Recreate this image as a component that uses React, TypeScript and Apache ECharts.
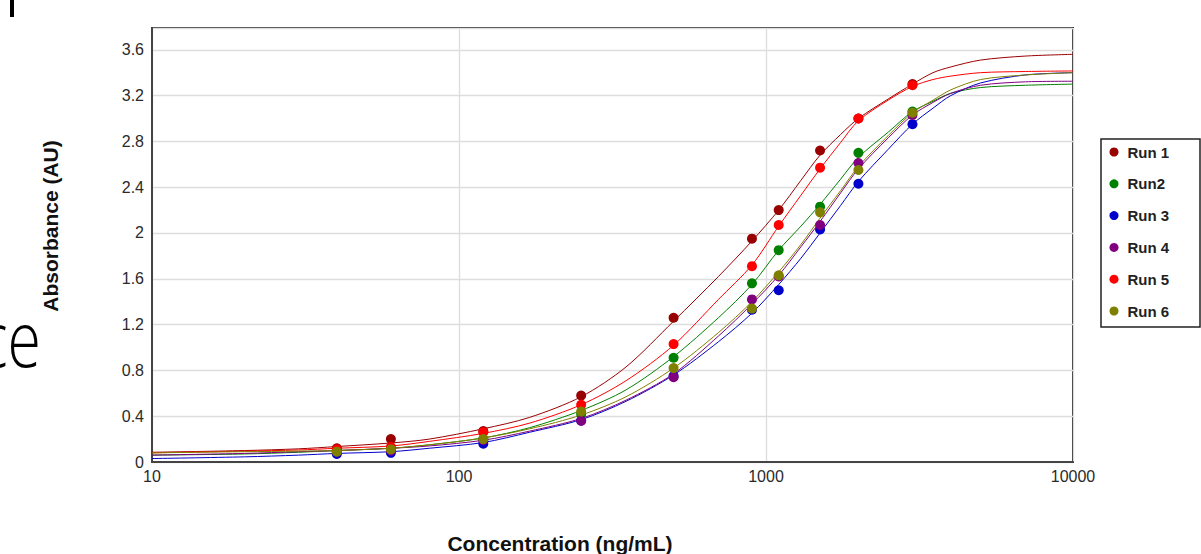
import React, { useEffect, useRef } from "react";
import * as echarts from "echarts";

// Measured concentrations (ng/mL)
const concentrations = [40, 60, 120, 250, 500, 900, 1100, 1500, 2000, 3000];

const runNames = ["Run 1", "Run2", "Run 3", "Run 4", "Run 5", "Run 6"];
const runColors = ["#990000", "#008000", "#0000cc", "#800080", "#ff0000", "#808000"];

// Measured absorbance points per run
const run1Points = [0.12, 0.2, 0.27, 0.58, 1.26, 1.95, 2.2, 2.72, 3.0, 3.3];
const run2Points = [0.09, 0.11, 0.2, 0.42, 0.91, 1.56, 1.85, 2.23, 2.7, 3.06];
const run3Points = [0.07, 0.08, 0.16, 0.36, 0.75, 1.33, 1.5, 2.03, 2.43, 2.95];
const run4Points = [0.09, 0.1, 0.19, 0.36, 0.74, 1.42, 1.62, 2.07, 2.61, 3.03];
const run5Points = [0.11, 0.13, 0.26, 0.5, 1.03, 1.71, 2.07, 2.57, 3.0, 3.29];
const run6Points = [0.09, 0.11, 0.2, 0.44, 0.82, 1.34, 1.63, 2.18, 2.55, 3.05];

// Fitted curves
const curveConc = [10, 20, 30, 40, 60, 80, 120, 170, 250, 350, 500, 700, 900, 1100, 1300, 1500, 1750, 2000, 2500, 3000, 3500, 4000, 5000, 7000, 10000];
const run1Curve = [0.085, 0.1, 0.115, 0.135, 0.166, 0.2, 0.29, 0.39, 0.57, 0.83, 1.23, 1.62, 1.93, 2.2, 2.46, 2.68, 2.86, 3.0, 3.17, 3.3, 3.4, 3.45, 3.51, 3.545, 3.56];
const run2Curve = [0.06, 0.07, 0.085, 0.1, 0.12, 0.15, 0.21, 0.3, 0.45, 0.63, 0.92, 1.26, 1.55, 1.85, 2.06, 2.25, 2.47, 2.66, 2.88, 3.06, 3.15, 3.22, 3.27, 3.29, 3.3];
const run3Curve = [0.03, 0.045, 0.06, 0.075, 0.09, 0.12, 0.17, 0.26, 0.37, 0.53, 0.76, 1.05, 1.3, 1.55, 1.78, 2.0, 2.24, 2.45, 2.73, 2.95, 3.09, 3.2, 3.31, 3.38, 3.4];
const run4Curve = [0.06, 0.075, 0.09, 0.1, 0.12, 0.14, 0.19, 0.27, 0.38, 0.54, 0.77, 1.1, 1.38, 1.63, 1.88, 2.1, 2.35, 2.56, 2.83, 3.03, 3.14, 3.22, 3.29, 3.32, 3.325];
const run5Curve = [0.08, 0.095, 0.105, 0.12, 0.14, 0.18, 0.25, 0.34, 0.5, 0.71, 1.02, 1.42, 1.72, 2.06, 2.33, 2.56, 2.79, 2.98, 3.16, 3.28, 3.34, 3.37, 3.4, 3.41, 3.415];
const run6Curve = [0.08, 0.09, 0.095, 0.1, 0.12, 0.15, 0.21, 0.29, 0.41, 0.57, 0.82, 1.13, 1.4, 1.66, 1.9, 2.13, 2.37, 2.58, 2.85, 3.05, 3.16, 3.25, 3.34, 3.38, 3.4];

const pointSets = [run1Points, run2Points, run3Points, run4Points, run5Points, run6Points];
const curveSets = [run1Curve, run2Curve, run3Curve, run4Curve, run5Curve, run6Curve];

const yTickInterval = 0.4;

const FONT = "'Liberation Sans', Arial, sans-serif";

export default function App() {
  const ref = useRef<HTMLDivElement>(null);

  useEffect(() => {
    if (!ref.current) return;
    const chart = echarts.init(ref.current, undefined, { renderer: "svg" });

    const series: any[] = [];
    runNames.forEach((name, i) => {
      series.push({
        name,
        type: "line",
        data: curveConc.map((c, k) => [c, curveSets[i][k]]),
        showSymbol: false,
        symbol: "none",
        smooth: 0.3,
        lineStyle: { color: runColors[i], width: 1 },
        itemStyle: { color: runColors[i] },
        z: 2,
      });
    });
    runNames.forEach((name, i) => {
      series.push({
        name,
        type: "scatter",
        data: concentrations.map((c, k) => [c, pointSets[i][k]]),
        symbol: "circle",
        symbolSize: 10,
        itemStyle: { color: runColors[i], opacity: 1 },
        z: 3,
      });
    });

    chart.setOption({
      animation: false,
      backgroundColor: "#ffffff",
      grid: {
        left: 152,
        right: 128,
        top: 28,
        bottom: 92,
        show: true,
        borderColor: "#333",
        borderWidth: 2,
        backgroundColor: "transparent",
      },
      xAxis: {
        type: "log",
        logBase: 10,
        min: 10,
        max: 10000,
        axisLine: { show: true, lineStyle: { color: "#444", width: 2 } },
        axisTick: { show: false },
        axisLabel: {
          color: "#2a2a2a",
          fontSize: 16,
          fontFamily: FONT,
          margin: 6,
          formatter: (v: number) => String(Math.round(v)),
        },
        splitLine: { show: true, lineStyle: { color: "#dddddd", width: 1.3 } },
        minorTick: { show: false },
      },
      yAxis: {
        type: "value",
        min: 0,
        max: 3.79,
        interval: yTickInterval,
        axisLine: { show: true, lineStyle: { color: "#444", width: 2 } },
        axisTick: { show: false },
        axisLabel: {
          color: "#2a2a2a",
          fontSize: 16,
          fontFamily: FONT,
          margin: 8,
          showMaxLabel: false,
        },
        splitLine: { show: true, lineStyle: { color: "#dddddd", width: 1.3 } },
      },
      legend: {
        data: runNames,
        orient: "vertical",
        left: 1101,
        top: 144,
        padding: [0, 0, 0, 8.5],
        icon: "circle",
        itemWidth: 17,
        itemHeight: 9,
        itemGap: 15.8,
        textStyle: {
          fontFamily: FONT,
          fontSize: 15,
          fontWeight: "bold",
          color: "#222",
          lineHeight: 16,
        },
      },
      graphic: [
        {
          type: "rect",
          shape: { x: 1101, y: 139, width: 99, height: 188 },
          style: { fill: "none", stroke: "#222", lineWidth: 1.5 },
          silent: true,
        },
        {
          type: "rect",
          shape: { x: 10, y: 0, width: 4, height: 17 },
          style: { fill: "#000" },
          silent: true,
        },
        {
          type: "text",
          x: 41,
          y: 336,
          scaleX: 0.78,
          style: {
            text: "ce",
            fontFamily: "'Open Sans', sans-serif",
            fontWeight: 300,
            fontSize: 78,
            fill: "#000",
            align: "right",
            verticalAlign: "middle",
          },
          silent: true,
        },
        {
          type: "text",
          x: 50,
          y: 226,
          rotation: Math.PI / 2,
          style: {
            text: "Absorbance (AU)",
            fontFamily: FONT,
            fontWeight: "bold",
            fontSize: 21,
            fill: "#111",
            align: "center",
            verticalAlign: "middle",
          },
          silent: true,
        },
        {
          type: "text",
          x: 560,
          y: 543,
          style: {
            text: "Concentration (ng/mL)",
            fontFamily: FONT,
            fontWeight: "bold",
            fontSize: 21,
            fill: "#111",
            align: "center",
            verticalAlign: "middle",
          },
          silent: true,
        },
      ],
      series,
    });

    return () => {
      chart.dispose();
    };
  }, []);

  return <div ref={ref} style={{ width: 1201, height: 554, position: "absolute", left: 0, top: 0 }} />;
}
